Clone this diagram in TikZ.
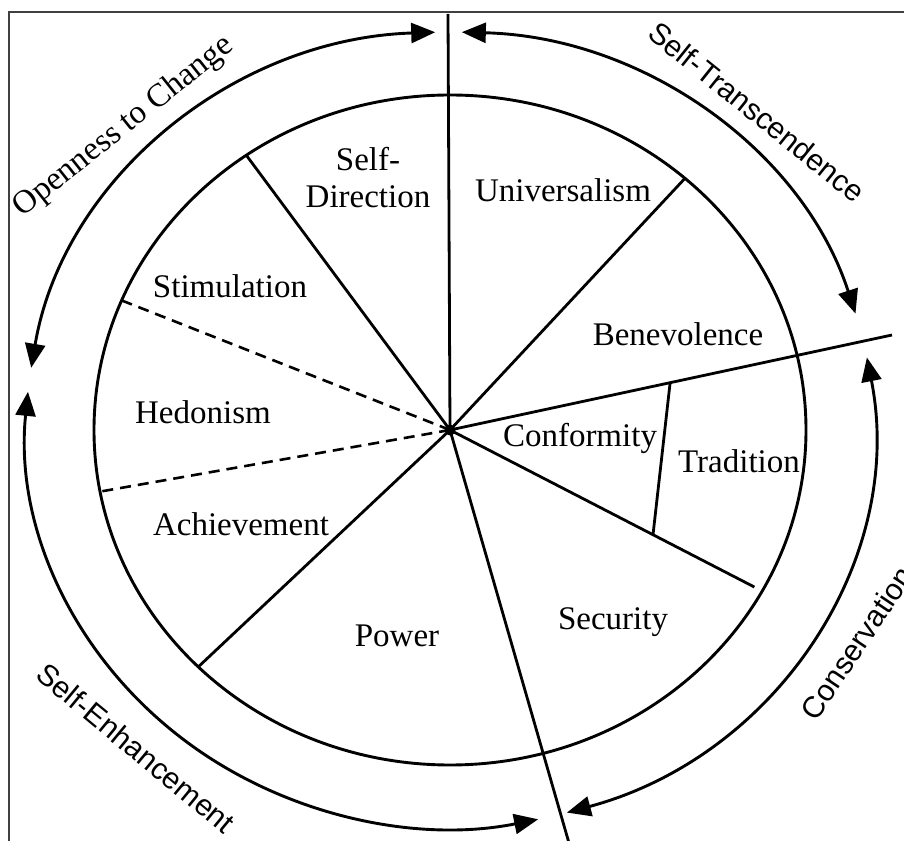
\documentclass[tikz,border=0pt]{standalone}
\usepackage{fontspec}
\setmainfont{Liberation Serif}
\newfontfamily\lsans{Liberation Sans}
\usetikzlibrary{calc,arrows.meta}
\begin{document}
\begin{tikzpicture}[x=1pt,y=1pt,
  lab/.style={font=\fontsize{33}{37}\selectfont, align=center, inner sep=0pt},
  olab/.style={font=\lsans\fontsize{30}{34}\selectfont, inner sep=0pt},
  slab/.style={font=\fontsize{33}{37}\selectfont, inner sep=0pt},
  spoke/.style={line width=2.8pt},
  dspoke/.style={line width=2.6pt, dash pattern=on 11pt off 7pt},
  ring/.style={line width=2.9pt},
  arr/.style={line width=2.9pt, {Triangle[length=24pt,width=20pt]}-{Triangle[length=24pt,width=20pt]}}
]
\useasboundingbox (0,0) rectangle (904,840);
\fill[white] (0,0) rectangle (904,840);
\draw[line width=2pt, black!75] (9,-20) rectangle (930,828);

\coordinate (C) at (450,410);
\draw[ring] (C) ellipse[x radius=356pt, y radius=335pt];

% spokes
\coordinate (top) at (448,826);
\coordinate (bot) at (571,-10);
\coordinate (rt) at (892,505);
\coordinate (uni) at ($(C)+(48.7:356pt and 335pt)$);
\coordinate (sd) at ($(C)+(124.9:356pt and 335pt)$);
\coordinate (d1) at ($(C)+(157.25:356pt and 335pt)$);
\coordinate (d2) at ($(C)+(190.6:356pt and 335pt)$);
\coordinate (ach) at ($(C)+(225:356pt and 335pt)$);
\coordinate (sec) at ($(C)+(331.3:347pt and 327pt)$);
\coordinate (td1) at ($(C)!0.498!(rt)$);
\coordinate (td2) at ($(C)!0.667!(sec)$);

\draw[spoke] (top) -- (C);
\draw[spoke] (C) -- (bot);
\draw[spoke] (C) -- (rt);
\draw[spoke] (C) -- (uni);
\draw[spoke] (C) -- (sd);
\draw[dspoke] (C) -- (d1);
\draw[dspoke] (C) -- (d2);
\draw[spoke] (C) -- (ach);
\draw[spoke] (C) -- (sec);
\draw[spoke] (td1) -- (td2);
\fill (C) circle[radius=5.5pt];

% outer arrows
\coordinate (oc) at ($(C)+(92:424pt and 398pt)$);
\coordinate (st) at ($(C)+(88.4:424pt and 398pt)$);
\coordinate (co) at ($(C)+(10.5:424pt and 398pt)$);
\coordinate (se) at ($(C)+(174.5:424pt and 398pt)$);
\draw[arr] (oc) arc[start angle=92, end angle=171, x radius=424pt, y radius=398pt];
\draw[arr] (st) arc[start angle=88.4, end angle=17, x radius=424pt, y radius=398pt];
\draw[arr] (co) arc[start angle=10.5, end angle=-74, x radius=424pt, y radius=398pt];
\draw[arr] (se) arc[start angle=174.5, end angle=282, x radius=424pt, y radius=398pt];

% inner labels
\node[lab] (lsd) at (368,662) {Self-\\Direction};
\node[lab] (luni) at (563,650) {Universalism};
\node[lab] (lben) at (678,506) {Benevolence};
\node[lab] (lsti) at (230,554) {Stimulation};
\node[lab] (lhed) at (203,428) {Hedonism};
\node[lab] (lach) at (241,316) {Achievement};
\node[lab] (lpow) at (397,204) {Power};
\node[lab] (lcon) at (580,402) {Conformity};
\node[lab] (ltra) at (739,379) {Tradition};
\node[lab] (lsec) at (613,218) {Security};

% outer labels
\node[slab, rotate=38.5] (loc) at (124,713) {Openness to Change};
\node[olab, rotate=-38.8] (lst) at (757,728) {Self-Transcendence};
\node[olab, rotate=56] (lcv) at (857,197) {Conservation};
\node[olab, rotate=-39.6] (lse) at (136,92) {Self-Enhancement};
\end{tikzpicture}
\end{document}
